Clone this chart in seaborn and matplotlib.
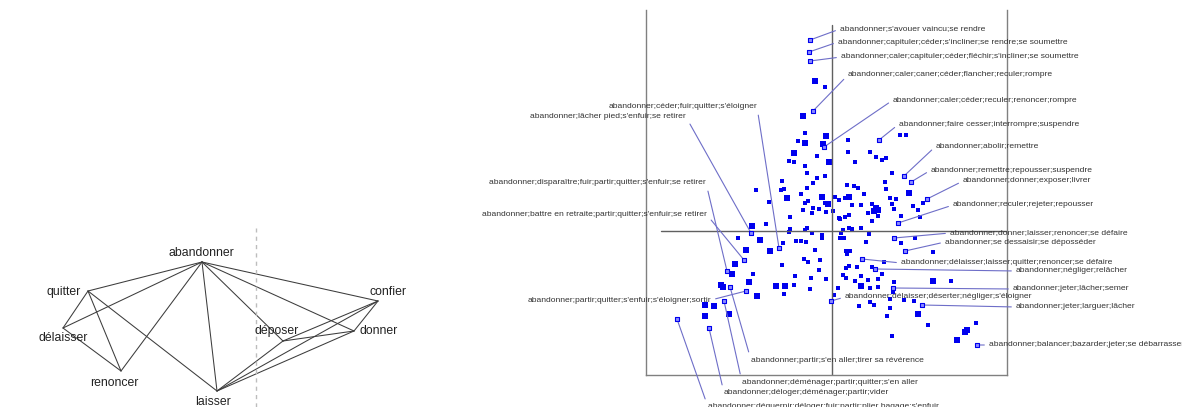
import numpy as np
import pandas as pd
import seaborn as sns
import matplotlib.pyplot as plt

sns.set_style("white")
plt.rcParams['font.family'] = ['Liberation Sans', 'DejaVu Sans']

# ---- left panel: synonym graph around "abandonner"
nodes = ["abandonner", "quitter", "délaisser", "renoncer", "laisser", "déposer", "donner", "confier"]
node_x = [202, 88, 63, 121, 217, 283, 354, 378]
node_y = [145, 116, 79, 36, 16, 66, 76, 106]
edges = [("abandonner", "quitter"), ("abandonner", "délaisser"), ("abandonner", "renoncer"),
         ("abandonner", "laisser"), ("abandonner", "déposer"), ("abandonner", "donner"),
         ("abandonner", "confier"), ("quitter", "délaisser"), ("quitter", "renoncer"),
         ("quitter", "laisser"), ("délaisser", "renoncer"), ("laisser", "déposer"),
         ("laisser", "donner"), ("laisser", "confier"), ("déposer", "confier"),
         ("déposer", "donner"), ("donner", "confier")]

# ---- right panel: cliques projected on the first two axes
small_x = [-0.07, -0.27, -0.34, 0.16, 0.16, -0.15, -0.43, -0.38, 0.23, -0.27, -0.25, -0.15, -0.07,
           -0.50, -0.19, -0.76, -0.51, -0.48, -0.25, 0.15, 0.22, 0.26, -0.31, 0.03, 0.07, 0.13,
           -0.24, -0.27, -0.07, -0.63, -0.19, -0.13, -0.29, -0.06, 0.01, -0.42, -0.20, 0.20, 0.07,
           0.13, 0.17,
           0.68, 0.74, 0.38, 0.44, 0.54, 0.50, 0.60, 0.53, 0.54, 0.32, 0.58, 0.64, 0.91, 0.29, 0.40,
           0.60, 0.81, 0.62, 0.86, 0.36, 0.46, 0.69, 0.88, 0.40, 0.29,
           -0.66, -0.42, -0.43, -0.25, -0.27, -0.20, -0.10, -0.10, -0.94, -0.49, -0.36, -0.31, -0.26,
           -0.17, -0.28, -0.24, -0.12, -0.50, -0.13, -0.79, -0.37, -0.21, -0.06, -0.38, -0.22, 0.06,
           -0.48, 0.02,
           0.08, 0.17, 0.20, 0.11, 0.09, 0.12, 0.08, 0.37, 0.34, 0.69, 0.83, 1.01, 0.14, 0.15, 0.18,
           0.52, 0.17, 0.14, 0.25, 0.40, 0.50, 0.11, 0.14, 0.29, 0.36, 0.23, 0.46, 0.62, 1.19, 0.38,
           0.46, 0.61, 0.27, 0.38, 0.42, 0.58, 0.72, 0.82, 0.58, 0.55, 0.96, 1.44, 0.60]
small_y = [1.44, 0.98, 0.90, 0.91, 0.79, 0.75, 0.70, 0.69, 0.69, 0.65, 0.58, 0.53, 0.55,
           0.50, 0.48, 0.41, 0.41, 0.42, 0.43, 0.46, 0.45, 0.43, 0.37, 0.34, 0.31, 0.33,
           0.30, 0.28, 0.28, 0.29, 0.23, 0.22, 0.21, 0.19, 0.20, 0.14, 0.18, 0.26, 0.13,
           0.14, 0.16,
           0.96, 0.96, 0.79, 0.74, 0.73, 0.71, 0.58, 0.49, 0.42, 0.37, 0.33, 0.32, 0.28, 0.26, 0.27,
           0.27, 0.25, 0.22, 0.21, 0.18, 0.15, 0.15, 0.14, 0.10, 0.03,
           0.07, 0.02, -0.01, 0.03, 0.01, -0.02, -0.04, -0.07, -0.07, -0.12, -0.10, -0.10, -0.11,
           -0.19, -0.28, -0.31, -0.29, -0.34, -0.39, -0.43, -0.45, -0.47, -0.48, -0.54, -0.58, -0.57,
           -0.63, -0.64,
           0.12, 0.03, 0.02, 0.01, -0.02, -0.07, -0.07, -0.03, -0.11, -0.12, -0.07, -0.21, -0.20, -0.23, -0.20,
           -0.31, -0.35, -0.37, -0.36, -0.36, -0.43, -0.44, -0.47, -0.45, -0.49, -0.50, -0.48, -0.51, -0.50, -0.57,
           -0.56, -0.61, -0.75, -0.71, -0.74, -0.68, -0.69, -0.70, -0.77, -0.85, -0.94, -0.92, -1.05]

big_x = [-0.17, -0.29, -0.06, -0.27, -0.09, -0.38, -0.03, -0.45, -0.10, 0.17, -0.04,
         0.77, 0.44, 0.46, 0.42,
         -0.80, -0.72, -0.62, -0.86, -0.97, -1.00, -0.83, -1.11, -1.09, -0.56, -0.47, -0.75,
         -1.27, -1.18, -1.27, -1.03,
         1.01, 0.29, 0.86, 1.35, 1.33, 1.25]
big_y = [1.50, 1.15, 0.95, 0.88, 0.87, 0.78, 0.69, 0.33, 0.34, 0.34, 0.27,
         0.38, 0.23, 0.21, 0.20,
         0.05, -0.09, -0.20, -0.19, -0.33, -0.43, -0.51, -0.54, -0.56, -0.55, -0.55, -0.65,
         -0.74, -0.75, -0.85, -0.83,
         -0.50, -0.55, -0.83, -0.99, -1.01, -1.09]

labels = ["abandonner;s'avouer vaincu;se rendre",
          "abandonner;capituler;céder;s'incliner;se rendre;se soumettre",
          "abandonner;caler;capituler;céder;fléchir;s'incliner;se soumettre",
          "abandonner;caler;caner;céder;flancher;reculer;rompre",
          "abandonner;caler;céder;reculer;renoncer;rompre",
          "abandonner;faire cesser;interrompre;suspendre",
          "abandonner;abolir;remettre",
          "abandonner;remettre;repousser;suspendre",
          "abandonner;donner;exposer;livrer",
          "abandonner;reculer;rejeter;repousser",
          "abandonner;donner;laisser;renoncer;se défaire",
          "abandonner;se dessaisir;se déposséder",
          "abandonner;délaisser;laisser;quitter;renoncer;se défaire",
          "abandonner;négliger;relâcher",
          "abandonner;jeter;lâcher;semer",
          "abandonner;jeter;larguer;lâcher",
          "abandonner;balancer;bazarder;jeter;se débarrasser",
          "abandonner;délaisser;déserter;négliger;s'éloigner",
          "abandonner;céder;fuir;quitter;s'éloigner",
          "abandonner;lâcher pied;s'enfuir;se retirer",
          "abandonner;disparaître;fuir;partir;quitter;s'enfuir;se retirer",
          "abandonner;battre en retraite;partir;quitter;s'enfuir;se retirer",
          "abandonner;partir;quitter;s'enfuir;s'éloigner;sortir",
          "abandonner;partir;s'en aller;tirer sa révérence",
          "abandonner;déménager;partir;quitter;s'en aller",
          "abandonner;déloger;déménager;partir;vider",
          "abandonner;déguerpir;déloger;fuir;partir;plier bagage;s'enfuir"]
lab_x = [-0.22, -0.23, -0.22, -0.19, -0.08, 0.47, 0.72, 0.79, 0.95, 0.66, 0.62, 0.73, 0.30, 0.43,
         0.61, 0.90, 1.45, -0.01, -0.53, -0.81, -1.05, -0.88, -0.86, -1.02, -1.08, -1.23, -1.55]
lab_y = [1.91, 1.79, 1.70, 1.20, 0.84, 0.91, 0.55, 0.49, 0.32, 0.08, -0.07, -0.20, -0.28, -0.38,
         -0.57, -0.74, -1.14, -0.70, -0.17, -0.02, -0.40, -0.29, -0.60, -0.56, -0.70, -0.97, -0.88]

# where each label's text sits (leader line end) and on which side
txt_x = [0.08, 0.06, 0.09, 0.16, 0.61, 0.67, 1.04, 0.99, 1.31, 1.21, 1.18, 1.13, 0.69, 1.84,
         1.81, 1.84, 1.57, 0.13, -0.75, -1.46, -1.26, -1.25, -1.21, -0.81, -0.90, -1.08, -1.24]
txt_y = [2.02, 1.89, 1.74, 1.56, 1.31, 1.07, 0.85, 0.61, 0.50, 0.26, -0.02, -0.11, -0.32, -0.40,
         -0.58, -0.76, -1.14, -0.66, 1.24, 1.14, 0.48, 0.16, -0.69, -1.29, -1.51, -1.62, -1.76]
txt_side = ["left"] * 18 + ["right"] * 5 + ["left"] * 4

fig = plt.figure(figsize=(11.82, 4.07), dpi=100)

# left graph
axg = fig.add_axes([0, 0, 420 / 1182, 1])
pos = dict(zip(nodes, zip(node_x, node_y)))
for a, b in edges:
    axg.plot([pos[a][0], pos[b][0]], [pos[a][1], pos[b][1]], color="#3c3c3c", lw=0.75)
axg.plot([256, 256], [0, 179], color="#bdbdbd", lw=1, ls=(0, (3, 3)))
name_pos = {"abandonner": (201, 154), "quitter": (64, 115), "délaisser": (63, 69),
            "renoncer": (114, 24), "laisser": (213, 5), "déposer": (277, 76),
            "donner": (379, 76), "confier": (388, 115)}
for n in nodes:
    axg.text(*name_pos[n], n, ha="center", va="center", fontsize=8.8, color="#222222")
axg.set_xlim(0, 420)
axg.set_ylim(0, 407)
axg.axis("off")

# right scatter
ax = fig.add_axes([646 / 1182, 32 / 407, 361 / 1182, 365 / 407])
ax.plot([0, 0], [-1.44, 2.06], color="#606060", lw=1)
ax.plot([-1.71, 1.75], [0, 0], color="#606060", lw=1)

sns.scatterplot(x=small_x, y=small_y, marker="s", s=5, color="#0000ee", linewidth=0, ax=ax)
sns.scatterplot(x=big_x, y=big_y, marker="s", s=13, color="#0000ee", linewidth=0, ax=ax)
sns.scatterplot(x=lab_x, y=lab_y, marker="s", s=11, color="#8c8cff", edgecolor="#0000ee",
                linewidth=0.8, ax=ax, zorder=4)

for t, px, py, tx, ty, side in zip(labels, lab_x, lab_y, txt_x, txt_y, txt_side):
    ax.annotate(t, xy=(px, py), xytext=(tx, ty), ha=side, va="center", fontsize=6.1,
                color="#333333", annotation_clip=False,
                arrowprops=dict(arrowstyle="-", color="#6e6ec8", lw=0.8, shrinkA=1, shrinkB=0,
                                relpos=(0 if side == "left" else 1, 0.5)))

ax.set_xlim(-1.86, 1.75)
ax.set_ylim(-1.44, 2.21)
ax.set_xticks([])
ax.set_yticks([])
ax.spines["top"].set_visible(False)
for s in ["left", "right", "bottom"]:
    ax.spines[s].set_color("#808080")
    ax.spines[s].set_linewidth(1)
ax.patch.set_alpha(0)

fig.savefig("out.png", dpi=100)
